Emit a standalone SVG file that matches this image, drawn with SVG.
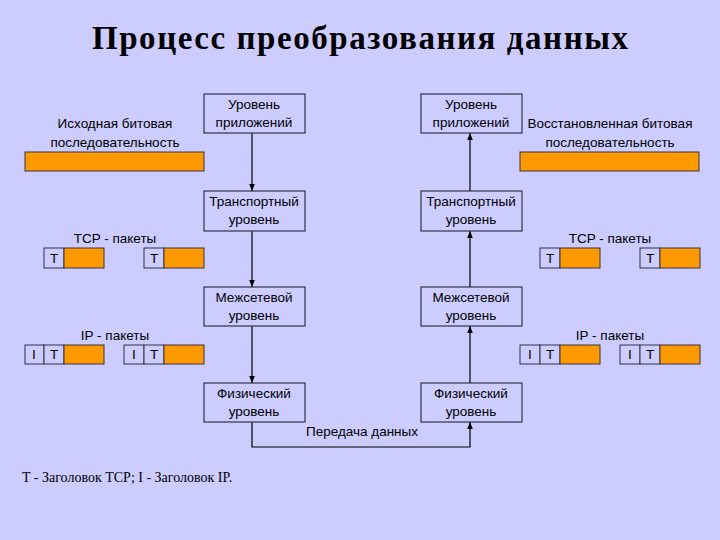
<svg xmlns="http://www.w3.org/2000/svg" width="720" height="540" viewBox="0 0 720 540">
<defs>
<style>
.b{fill:#CCCCFF;stroke:#333344;stroke-width:1.2}
.o{fill:#FF9900;stroke:#333344;stroke-width:1}
.h{fill:#CCCCFF;stroke:#333344;stroke-width:1}
.t{font-family:"Liberation Sans",Arial,sans-serif;font-size:13.5px;fill:#000;text-anchor:middle}
.c{fill:none;stroke:#000;stroke-width:1.2}
</style>
<marker id="a" viewBox="0 0 10 10" refX="10" refY="5" markerWidth="6" markerHeight="6" orient="auto"><path d="M0,1 L10,5 L0,9 z" fill="#000"/></marker>
</defs>
<rect width="720" height="540" fill="#CCCCFF"/>
<text x="360" y="49" font-family="Liberation Serif,serif" font-size="33" font-weight="bold" text-anchor="middle" textLength="536" lengthAdjust="spacing">Процесс преобразования данных</text>
<g id="connectors">
<line class="c" x1="252" y1="133" x2="252" y2="191" marker-end="url(#a)"/>
<line class="c" x1="252" y1="231" x2="252" y2="287" marker-end="url(#a)"/>
<line class="c" x1="252" y1="326" x2="252" y2="383" marker-end="url(#a)"/>
<polyline class="c" points="252,422 252,447 470,447 470,422" marker-end="url(#a)"/>
<line class="c" x1="470" y1="383" x2="470" y2="326" marker-end="url(#a)"/>
<line class="c" x1="470" y1="287" x2="470" y2="231" marker-end="url(#a)"/>
<line class="c" x1="470" y1="191" x2="470" y2="133" marker-end="url(#a)"/>
<text class="t" x="362" y="436">Передача данных</text>
</g>
<g id="l1"><rect class="b" x="204" y="94" width="101" height="39"/><text class="t" x="254" y="109">Уровень</text><text class="t" x="254" y="127">приложений</text></g>
<g id="l2"><rect class="b" x="204" y="191" width="101" height="40"/><text class="t" x="254" y="206">Транспортный</text><text class="t" x="254" y="224">уровень</text></g>
<g id="l3"><rect class="b" x="204" y="287" width="101" height="39"/><text class="t" x="254" y="302">Межсетевой</text><text class="t" x="254" y="320">уровень</text></g>
<g id="l4"><rect class="b" x="204" y="383" width="101" height="39"/><text class="t" x="254" y="398">Физический</text><text class="t" x="254" y="416">уровень</text></g>
<g id="r1"><rect class="b" x="421" y="94" width="101" height="39"/><text class="t" x="471" y="109">Уровень</text><text class="t" x="471" y="127">приложений</text></g>
<g id="r2"><rect class="b" x="421" y="191" width="101" height="40"/><text class="t" x="471" y="206">Транспортный</text><text class="t" x="471" y="224">уровень</text></g>
<g id="r3"><rect class="b" x="421" y="287" width="101" height="39"/><text class="t" x="471" y="302">Межсетевой</text><text class="t" x="471" y="320">уровень</text></g>
<g id="r4"><rect class="b" x="421" y="383" width="101" height="39"/><text class="t" x="471" y="398">Физический</text><text class="t" x="471" y="416">уровень</text></g>
<g id="leftdata">
<text class="t" x="115" y="128">Исходная битовая</text><text class="t" x="115" y="147">последовательность</text>
<rect class="o" x="25" y="152" width="179" height="19"/>
<text class="t" x="115" y="243">TCP - пакеты</text>
<rect class="h" x="44" y="248" width="20" height="20"/><text class="t" x="54" y="263">T</text><rect class="o" x="64" y="248" width="40" height="20"/>
<rect class="h" x="144" y="248" width="20" height="20"/><text class="t" x="154" y="263">T</text><rect class="o" x="164" y="248" width="40" height="20"/>
<text class="t" x="115" y="340">IP - пакеты</text>
<rect class="h" x="25" y="345" width="19" height="19"/><text class="t" x="34" y="359">I</text>
<rect class="h" x="44" y="345" width="20" height="19"/><text class="t" x="54" y="359">T</text><rect class="o" x="64" y="345" width="40" height="19"/>
<rect class="h" x="124" y="345" width="20" height="19"/><text class="t" x="134" y="359">I</text>
<rect class="h" x="144" y="345" width="20" height="19"/><text class="t" x="154" y="359">T</text><rect class="o" x="164" y="345" width="40" height="19"/>
</g>
<g id="rightdata">
<text class="t" x="610" y="128">Восстановленная битовая</text><text class="t" x="610" y="147">последовательность</text>
<rect class="o" x="520" y="152" width="179" height="19"/>
<text class="t" x="610" y="243">TCP - пакеты</text>
<rect class="h" x="540" y="248" width="20" height="20"/><text class="t" x="550" y="263">T</text><rect class="o" x="560" y="248" width="40" height="20"/>
<rect class="h" x="640" y="248" width="20" height="20"/><text class="t" x="650" y="263">T</text><rect class="o" x="660" y="248" width="40" height="20"/>
<text class="t" x="610" y="340">IP - пакеты</text>
<rect class="h" x="520" y="345" width="20" height="19"/><text class="t" x="530" y="359">I</text>
<rect class="h" x="540" y="345" width="20" height="19"/><text class="t" x="550" y="359">T</text><rect class="o" x="560" y="345" width="40" height="19"/>
<rect class="h" x="620" y="345" width="20" height="19"/><text class="t" x="630" y="359">I</text>
<rect class="h" x="640" y="345" width="20" height="19"/><text class="t" x="650" y="359">T</text><rect class="o" x="660" y="345" width="40" height="19"/>
</g>
<text x="22" y="482" font-family="Liberation Serif,serif" font-size="14">T - Заголовок TCP; I - Заголовок IP.</text>
</svg>
